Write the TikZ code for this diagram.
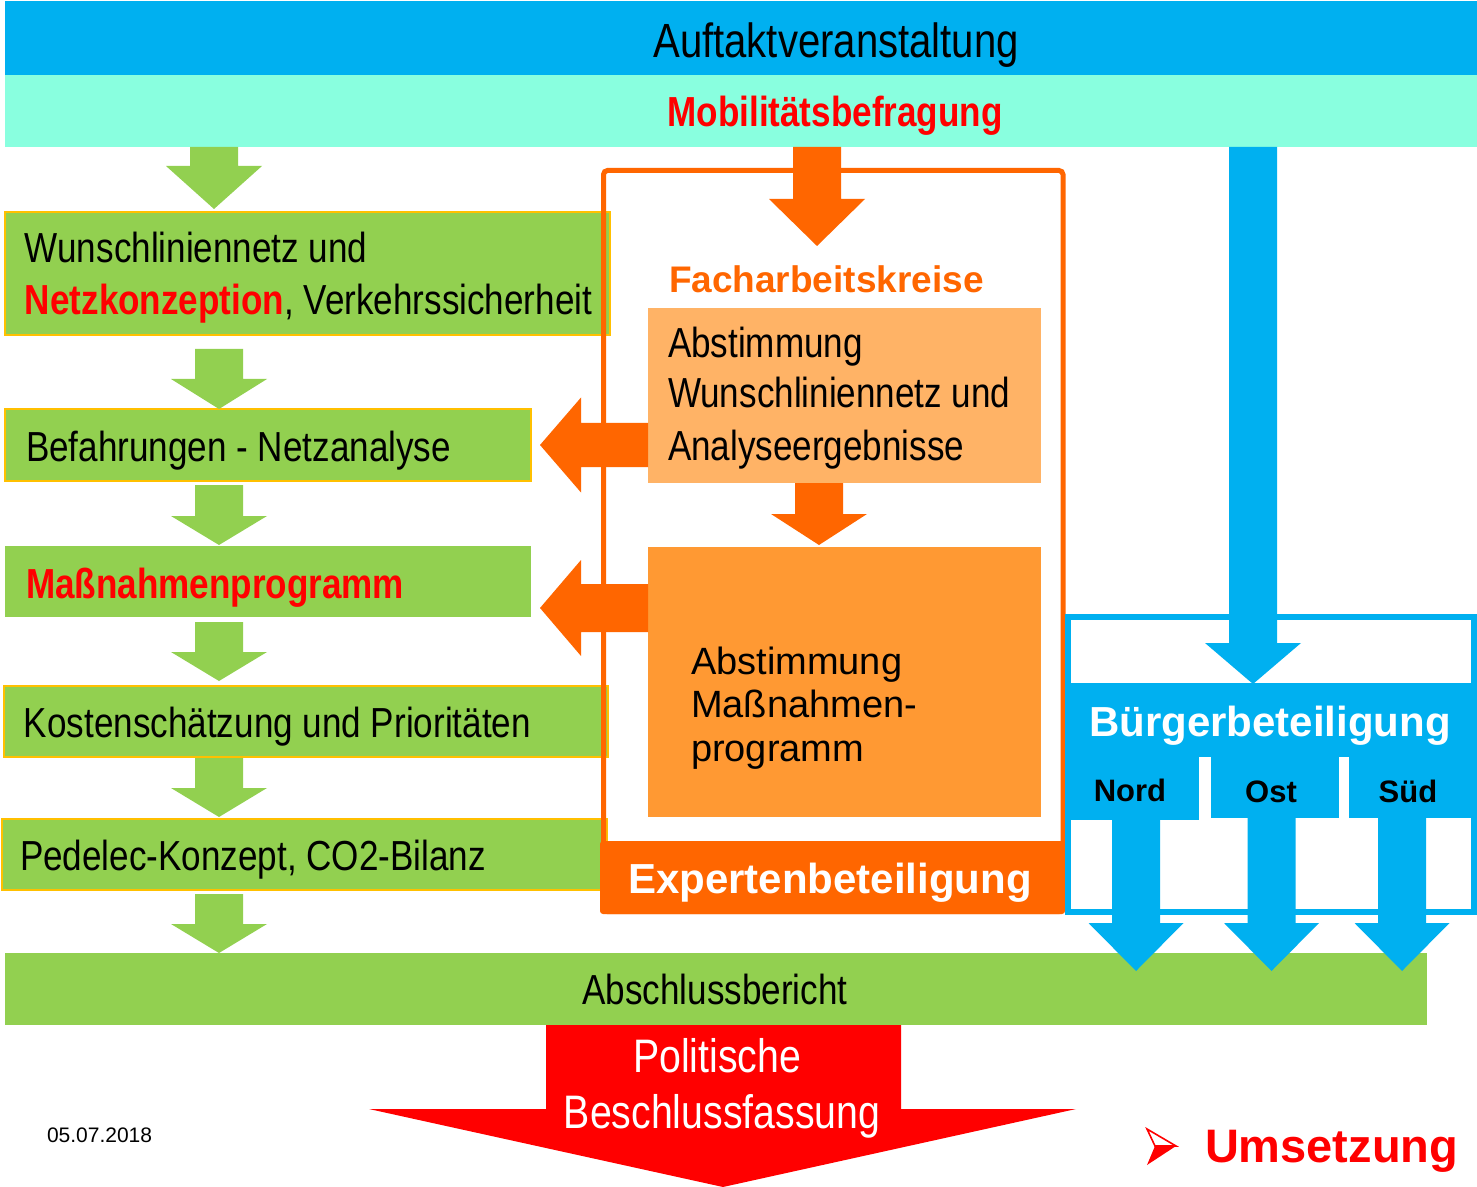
\documentclass[tikz,border=0pt]{standalone}
\usepackage{fontspec}
\setmainfont{Liberation Sans}
\newfontfamily\nar[FakeStretch=0.835]{Liberation Sans}
\definecolor{cblue}{HTML}{00B0F0}
\definecolor{cmint}{HTML}{89FFDF}
\definecolor{cgreen}{HTML}{92D050}
\definecolor{cyel}{HTML}{FFC000}
\definecolor{corange}{HTML}{FF6600}
\definecolor{clight}{HTML}{FFB366}
\definecolor{cdark}{HTML}{FF9933}
\definecolor{cred}{HTML}{FF0000}
\newcommand{\px}{0.5pt}
% down block arrow: color, cx, y0, y1, y2, shaft half width, head half width
\newcommand{\darrow}[7]{%
  \fill[#1] ({#2-#6},#3) -- ({#2+#6},#3) -- ({#2+#6},#4) -- ({#2+#7},#4) -- (#2,#5)
    -- ({#2-#7},#4) -- ({#2-#6},#4) -- cycle;}
% left block arrow: color, xbase, xhead, xtip, cy, shaft half width, head half width
\newcommand{\larrow}[7]{%
  \fill[#1] (#2,{#5-#6}) -- (#3,{#5-#6}) -- (#3,{#5-#7}) -- (#4,#5) -- (#3,{#5+#7})
    -- (#3,{#5+#6}) -- (#2,{#5+#6}) -- cycle;}
\tikzset{
  bar/.style={anchor=north west, inner sep=0pt, outer sep=0pt, draw=none},
  gbox/.style={bar, fill=cgreen, draw=cyel, line width=1pt},
  txt/.style={inner sep=0pt, outer sep=0pt, anchor=base west, font=\nar\fontsize{21}{25}\selectfont},
  txtc/.style={txt, anchor=base},
  boldw/.style={inner sep=0pt, outer sep=0pt, anchor=base, font=\bfseries\fontsize{21}{25}\selectfont, text=white},
}
\begin{document}
\begin{tikzpicture}[x=0.5pt, y=-0.5pt]
\useasboundingbox (0,0) rectangle (1477,1187);
\fill[white] (0,0) rectangle (1477,1187);

% top bars
\node[bar, fill=cblue, minimum width=1472*\px, minimum height=74*\px] (auf) at (5,1) {};
\node[bar, fill=cmint, minimum width=1472*\px, minimum height=72*\px] (mob) at (5,75) {};

% left column boxes
\node[gbox, minimum width=605*\px, minimum height=123*\px] (b1) at (5,212) {};
\node[gbox, minimum width=526*\px, minimum height=72*\px] (b2) at (5,409) {};
\node[bar, fill=cgreen, minimum width=526*\px, minimum height=71*\px] (b3) at (5,546) {};
\node[gbox, minimum width=604*\px, minimum height=71*\px] (b4) at (4,686) {};
\node[gbox, minimum width=605*\px, minimum height=71*\px] (b5) at (2,819) {};
\node[bar, fill=cgreen, minimum width=1422*\px, minimum height=72*\px] (abs) at (5,953) {};

% green arrows
\darrow{cgreen}{214}{147}{166}{209}{24}{48}
\darrow{cgreen}{219}{349}{379}{409}{24}{48}
\darrow{cgreen}{219}{485}{516}{545}{24}{48}
\darrow{cgreen}{219}{622}{652}{681}{24}{48}
\darrow{cgreen}{219}{758}{788}{817}{24}{48}
\darrow{cgreen}{219}{894}{924}{953}{24}{48}

% expert frame
\node[draw=corange, line width=2.5pt, rounded corners=2pt, anchor=north west, inner sep=0pt, outer sep=0pt,
      minimum width=459.5*\px, minimum height=741*\px] (frE) at (603.5,170.5) {};
\node[bar, fill=corange, rounded corners=1.5pt, minimum width=465*\px, minimum height=73*\px] (exp) at (600,841) {};
\node[bar, fill=clight, minimum width=393*\px, minimum height=175*\px] (fa1) at (648,308) {};
\node[bar, fill=cdark, minimum width=393*\px, minimum height=270*\px] (fa2) at (648,547) {};

% orange arrows
\darrow{corange}{817}{147}{199}{246}{24}{48}
\darrow{corange}{819}{483}{514}{545}{24}{48}
\larrow{corange}{648}{581}{540}{445}{22}{47.5}
\larrow{corange}{648}{581}{540}{608}{24}{48}

% citizen frame
\node[draw=cblue, line width=3pt, anchor=north west, inner sep=0pt, outer sep=0pt,
      minimum width=406*\px, minimum height=294.5*\px] (frB) at (1068,617) {};
\node[bar, fill=cblue, minimum width=407*\px, minimum height=74*\px] (bue) at (1068,683) {};
\node[bar, fill=cblue, minimum width=128*\px, minimum height=63*\px] (nord) at (1071,757) {};
\node[bar, fill=cblue, minimum width=128*\px, minimum height=61*\px] (ost) at (1211,757) {};
\node[bar, fill=cblue, minimum width=128*\px, minimum height=61*\px] (sued) at (1349,757) {};

% blue arrows
\darrow{cblue}{1253}{147}{643}{684}{24}{48}
\darrow{cblue}{1136}{818}{923}{971}{24}{47.5}
\darrow{cblue}{1271.5}{816}{923}{971}{24}{47.5}
\darrow{cblue}{1402}{816}{923}{971}{24}{47.5}

% red arrow
\fill[cred] (546,1025) -- (901,1025) -- (901,1109) -- (1076,1109) -- (723,1187)
  -- (369,1109) -- (546,1109) -- cycle;

% bullet
\fill[cred] (1155,1146) -- (1176,1146) -- (1147,1165) -- cycle;
\draw[cred, line width=0.8pt, line join=miter] (1155,1146) -- (1147,1129) -- (1176,1146) -- cycle;

% texts
\node[txtc, font=\nar\fontsize{24}{28}\selectfont] (t-auf) at (836,58) {Auftaktveranstaltung};
\node[txtc, font=\nar\bfseries\fontsize{21}{25}\selectfont, text=cred] (t-mob) at (835,127) {Mobilitätsbefragung};

\node[txt] (t-b1a) at (25,263) {Wunschliniennetz und};
\node[txt] (t-b1b) at (25,315) {\textcolor{cred}{\bfseries Netzkonzeption}, Verkehrssicherheit};
\node[txt] (t-b2) at (26,461) {Befahrungen - Netzanalyse};
\node[txt, font=\nar\bfseries\fontsize{21}{25}\selectfont, text=cred] (t-b3) at (26,598) {Maßnahmenprogramm};
\node[txt] (t-b4) at (24,737) {Kostenschätzung und Prioritäten};
\node[txt] (t-b5) at (20,870) {Pedelec-Konzept, CO2-Bilanz};
\node[txtc] (t-abs) at (715,1004) {Abschlussbericht};

\node[txt, font=\bfseries\fontsize{18.5}{22}\selectfont, text=corange] (t-fak) at (669,293) {Facharbeitskreise};
\node[txt] (t-fa1a) at (668,358) {Abstimmung};
\node[txt] (t-fa1b) at (668,408) {Wunschliniennetz und};
\node[txt] (t-fa1c) at (668,460) {Analyseergebnisse};
\node[txt, font=\fontsize{19}{22}\selectfont] (t-fa2a) at (691,674) {Abstimmung};
\node[txt, font=\fontsize{19}{22}\selectfont] (t-fa2b) at (691,717) {Maßnahmen-};
\node[txt, font=\fontsize{19}{22}\selectfont] (t-fa2c) at (691,761) {programm};
\node[boldw] (t-exp) at (830,893) {Expertenbeteiligung};

\node[boldw] (t-bue) at (1270,736) {Bürgerbeteiligung};
\node[boldw, text=black, font=\bfseries\fontsize{15.5}{18}\selectfont] (t-nord) at (1130,801) {Nord};
\node[boldw, text=black, font=\bfseries\fontsize{15.5}{18}\selectfont] (t-ost) at (1271,802) {Ost};
\node[boldw, text=black, font=\bfseries\fontsize{15.5}{18}\selectfont] (t-sued) at (1408,802) {Süd};

\node[txtc, font=\nar\fontsize{23.5}{28}\selectfont, text=white] (t-pol1) at (717,1072) {Politische};
\node[txtc, font=\nar\fontsize{23.5}{28}\selectfont, text=white] (t-pol2) at (722,1128) {Beschlussfassung};
\node[txt, font=\fontsize{10.5}{12}\selectfont] (t-date) at (47,1142) {05.07.2018};
\node[txt, font=\bfseries\fontsize{23.5}{27}\selectfont, text=cred] (t-ums) at (1205,1162) {Umsetzung};
\end{tikzpicture}
\end{document}
